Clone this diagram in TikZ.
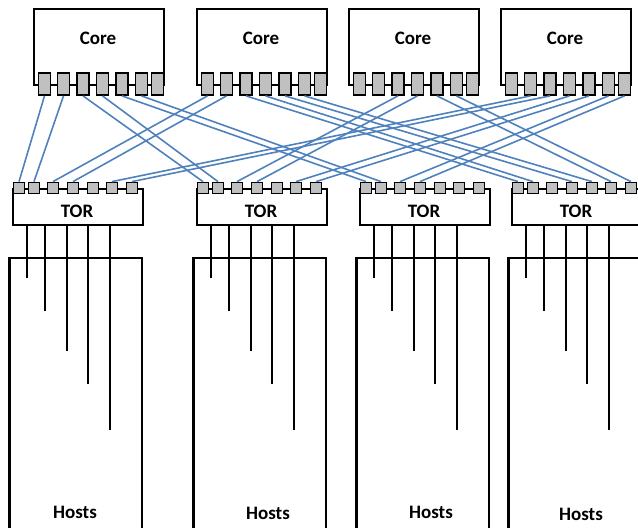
\documentclass[tikz,border=0pt]{standalone}
\usepackage{fontspec}
\setmainfont{Carlito}
\usetikzlibrary{positioning}
\definecolor{linkblue}{HTML}{4F81BD}
\definecolor{portgrey}{HTML}{C0C0C0}

\begin{document}
\begin{tikzpicture}[x=1pt, y=-1pt, font=\bfseries\fontsize{19}{22}\selectfont,
    box/.style={draw, line width=2.2pt, inner sep=0pt, anchor=north west},
    coreport/.style={draw, line width=1.8pt, fill=portgrey, inner sep=0pt,
                     minimum width=12pt, minimum height=22pt},
    torport/.style={draw, line width=1.8pt, fill=portgrey, inner sep=0pt,
                    minimum size=11pt},
    link/.style={linkblue, line width=1.6pt},
    wire/.style={line width=2.2pt}]
  \useasboundingbox (0,0) rectangle (638,528);
  \clip (0,0) rectangle (638,528);

  % core switches, 7 uplink ports each
  \foreach \i/\x in {1/33,2/196,3/348,4/500} {
    \node[box, minimum width=130pt, minimum height=76pt] (core\i) at (\x,8) {};
    \node (corename\i) at (\x+65,38) {Core};
    \foreach \p/\o in {1/11.5,2/30.5,3/50,4/69.5,5/89,6/108.5,7/124.5}
      \node[coreport] (c\i-\p) at (\x+\o,84) {};
  }

  % top of rack switches
  \foreach \i/\x in {1/12,2/196,3/359,4/511} {
    \node[box, minimum width=130pt, minimum height=36pt] (tor\i) at (\x,188) {};
    \node (torname\i) at (\x+65,211) {TOR};
    \foreach \p/\o in {1/7,2/22,3/41,4/61,5/81,6/100,7/120}
      \node[torport] (t\i-\p) at (\x+\o,188) {};
  }

  % hosts under each rack
  \foreach \i/\x/\lx/\ly in {1/12/75/512,2/196/268/513,3/359/431/512,4/511/581/514} {
    \draw[wire] (\x-2.5,540) -- (\x-2.5,258) -- (\x+130,258) -- (\x+130,540);
    \node (hosts\i) at (\lx,\ly) {Hosts};
    \foreach \k/\o/\e in {1/15/278,2/33/311,3/55/351,4/76/384,5/98/430} {
      \coordinate (h\i-\k) at (\x+\o,\e);
      \draw[wire] (h\i-\k |- tor\i.south) -- (h\i-\k);
    }
  }

  % core to TOR links
  \foreach \a/\b/\c/\d in {1/1/1/1,1/2/1/2,1/3/2/1,1/4/2/2,1/5/3/1,1/6/3/2,
                           2/1/1/3,2/2/1/4,2/3/4/1,2/4/4/2,2/5/4/4,2/6/4/5,
                           3/3/2/3,3/4/2/4,3/5/4/6,3/6/4/7,
                           4/2/1/6,4/3/1/7,4/4/2/6,4/5/2/7,4/6/3/3,4/7/3/4}
    \draw[link] (c\a-\b.south) -- (t\c-\d.north);
\end{tikzpicture}
\end{document}
